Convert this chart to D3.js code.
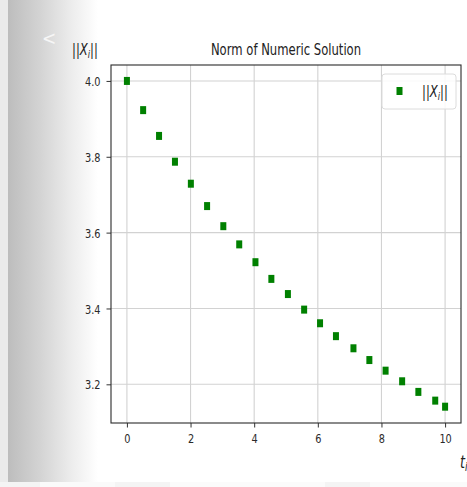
<!DOCTYPE html>
<html>
<head>
<meta charset="utf-8">
<script src="https://cdn.jsdelivr.net/npm/d3@7"></script>
<style>
  html, body { margin: 0; padding: 0; background: #fff; }
  svg { display: block; font-family: "DejaVu Sans", sans-serif; }
</style>
</head>
<body>
<svg id="chart" width="467" height="487"></svg>
<script>
// ---- data ----
const tValues = [0, 0.51, 1.01, 1.51, 2.01, 2.52, 3.03, 3.53, 4.04, 4.54, 5.06, 5.57, 6.07, 6.57, 7.12, 7.62, 8.13, 8.65, 9.16, 9.69, 10.0];
const normValues = [4.000, 3.923, 3.855, 3.787, 3.729, 3.670, 3.617, 3.569, 3.522, 3.478, 3.438, 3.397, 3.361, 3.327, 3.295, 3.264, 3.236, 3.208, 3.180, 3.157, 3.141];
const xTicks = [0, 2, 4, 6, 8, 10];
const yTicks = [3.2, 3.4, 3.6, 3.8, 4.0];
const xDomain = [-0.5, 10.5];
const yDomain = [3.098, 4.042];
const titleText = "Norm of Numeric Solution";

// ---- layout ----
const SX = 0.75; // horizontal squeeze of the photographed text
const plot = {left: 111, right: 461, top: 65, bottom: 423};
const svg = d3.select("#chart");

// background: left gray gradient + bottom strip
const defs = svg.append("defs");
const grad = defs.append("linearGradient").attr("id", "lg").attr("x1", "0").attr("x2", "1").attr("y1", "0").attr("y2", "0");
grad.append("stop").attr("offset", "0").attr("stop-color", "#bdbdbd");
grad.append("stop").attr("offset", "0.35").attr("stop-color", "#d3d3d3");
grad.append("stop").attr("offset", "0.7").attr("stop-color", "#ececec");
grad.append("stop").attr("offset", "1").attr("stop-color", "#ffffff");
svg.append("rect").attr("x", 0).attr("y", 0).attr("width", 8).attr("height", 482).attr("fill", "#ebebeb");
svg.append("rect").attr("x", 8).attr("y", 0).attr("width", 90).attr("height", 482).attr("fill", "url(#lg)");
svg.append("rect").attr("x", 0).attr("y", 482).attr("width", 467).attr("height", 5).attr("fill", "#f4f4f4");
svg.append("rect").attr("x", 40).attr("y", 482).attr("width", 75).attr("height", 5).attr("fill", "#fafafa");
svg.append("rect").attr("x", 170).attr("y", 482).attr("width", 155).attr("height", 5).attr("fill", "#fbfbfb");
svg.append("rect").attr("x", 370).attr("y", 482).attr("width", 97).attr("height", 5).attr("fill", "#fafafa");

// back arrow
svg.append("text").attr("transform", "translate(42,45) scale(0.9,1)")
  .attr("font-size", 19).attr("fill", "#f6f6f6").text("<");

// ---- scales ----
const x = d3.scaleLinear().domain(xDomain).range([plot.left, plot.right]);
const y = d3.scaleLinear().domain(yDomain).range([plot.bottom, plot.top]);

// grid
const grid = svg.append("g");
grid.selectAll("line.gx").data(xTicks).join("line")
  .attr("x1", d => x(d)).attr("x2", d => x(d))
  .attr("y1", plot.top).attr("y2", plot.bottom)
  .attr("stroke", "#d2d2d2").attr("stroke-width", 1.1);
grid.selectAll("line.gy").data(yTicks).join("line")
  .attr("y1", d => y(d)).attr("y2", d => y(d))
  .attr("x1", plot.left).attr("x2", plot.right)
  .attr("stroke", "#d2d2d2").attr("stroke-width", 1.1);

// axes
const xAxis = svg.append("g").attr("transform", `translate(0,${plot.bottom})`)
  .call(d3.axisBottom(x).tickValues(xTicks).tickFormat(d3.format("d")).tickSize(4.5).tickSizeOuter(0));
xAxis.select(".domain").remove();
xAxis.selectAll(".tick line").attr("stroke", "#333");
xAxis.selectAll(".tick text")
  .attr("y", 0).attr("dy", 0)
  .attr("transform", "translate(0,20) scale(" + SX + ",1)")
  .attr("font-size", 13).attr("fill", "#2a2a2a").attr("font-family", "DejaVu Sans");

const yAxis = svg.append("g").attr("transform", `translate(${plot.left},0)`)
  .call(d3.axisLeft(y).tickValues(yTicks).tickFormat(d3.format(".1f")).tickSize(4.5).tickSizeOuter(0));
yAxis.select(".domain").remove();
yAxis.selectAll(".tick line").attr("stroke", "#333");
yAxis.selectAll(".tick text")
  .attr("x", 0).attr("dy", "0.35em")
  .attr("transform", "translate(-10.5,0) scale(" + SX + ",1)")
  .attr("font-size", 13).attr("fill", "#2a2a2a").attr("font-family", "DejaVu Sans");

// frame
svg.append("rect").attr("x", plot.left).attr("y", plot.top)
  .attr("width", plot.right - plot.left).attr("height", plot.bottom - plot.top)
  .attr("fill", "none").attr("stroke", "#2a2a2a").attr("stroke-width", 1.1);

// points
svg.append("g").selectAll("rect").data(tValues.map((t, i) => [t, normValues[i]])).join("rect")
  .attr("x", d => x(d[0]) - 3).attr("y", d => y(d[1]) - 4)
  .attr("width", 6).attr("height", 8)
  .attr("fill", "#008000");

// title
svg.append("text").attr("transform", `translate(${(plot.left + plot.right) / 2},55) scale(${SX},1)`)
  .attr("text-anchor", "middle").attr("font-size", 15.5).attr("fill", "#222").text(titleText);

// norm label helper: ||X_i||
function normLabel(sel, fs) {
  sel.append("tspan").text("||");
  sel.append("tspan").attr("font-style", "italic").text("X");
  sel.append("tspan").attr("font-style", "italic").attr("font-size", fs * 0.7).attr("dy", fs * 0.2).text("i");
  sel.append("tspan").attr("dy", -fs * 0.2).text("||");
}

// y label
const yl = svg.append("text").attr("transform", `translate(72,55) scale(${SX},1)`)
  .attr("font-size", 15.5).attr("fill", "#222");
normLabel(yl, 15.5);

// x label
const xl = svg.append("text").attr("transform", `translate(460,468) scale(${SX},1)`)
  .attr("font-size", 17).attr("fill", "#222");
xl.append("tspan").attr("font-style", "italic").text("t");
xl.append("tspan").attr("font-style", "italic").attr("font-size", 12).attr("dy", 3).text("i");

// legend
const lg = svg.append("g");
lg.append("rect").attr("x", 382).attr("y", 74).attr("width", 74).attr("height", 35).attr("rx", 3)
  .attr("fill", "#fff").attr("fill-opacity", 0.85).attr("stroke", "#dcdcdc").attr("stroke-width", 1);
lg.append("rect").attr("x", 396.5).attr("y", 87).attr("width", 6).attr("height", 8).attr("fill", "#008000");
const lt = lg.append("text").attr("transform", `translate(422,97) scale(${SX},1)`)
  .attr("font-size", 15.5).attr("fill", "#222");
normLabel(lt, 15.5);
</script>
</body>
</html>
